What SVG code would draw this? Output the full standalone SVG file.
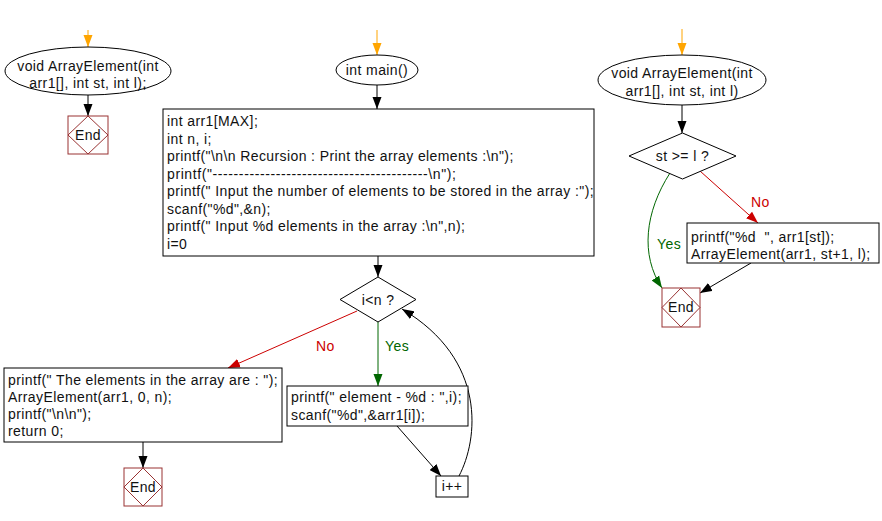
<svg xmlns="http://www.w3.org/2000/svg" width="882" height="521" viewBox="0 0 882 521">
<defs>
<style>
text{font-family:"Liberation Sans",Arial,sans-serif;font-size:14px;letter-spacing:0.4px;fill:#111;white-space:pre}
.sh{fill:#fff;stroke:#000;stroke-width:1}
.end rect{fill:#fff;stroke:#993333;stroke-width:1}
.end path{fill:none;stroke:#993333;stroke-width:1}
.c{fill:none;stroke:#000;stroke-width:1}
.o{stroke:#FFA500}
.r{stroke:#CC0000}
.g{stroke:#006600}
.lr{fill:#CC0000}
.lg{fill:#006600}
</style>
<marker id="ak" markerUnits="userSpaceOnUse" markerWidth="14" markerHeight="10" refX="12" refY="5" orient="auto"><path d="M0,0.5 L12,5 L0,9.5 Z" fill="#000"/></marker>
<marker id="ao" markerUnits="userSpaceOnUse" markerWidth="14" markerHeight="10" refX="12" refY="5" orient="auto"><path d="M0,0.5 L12,5 L0,9.5 Z" fill="#FFA500"/></marker>
<marker id="ar" markerUnits="userSpaceOnUse" markerWidth="14" markerHeight="10" refX="12" refY="5" orient="auto"><path d="M0,0.5 L12,5 L0,9.5 Z" fill="#CC0000"/></marker>
<marker id="ag" markerUnits="userSpaceOnUse" markerWidth="14" markerHeight="10" refX="12" refY="5" orient="auto"><path d="M0,0.5 L12,5 L0,9.5 Z" fill="#006600"/></marker>
</defs>
<rect width="882" height="521" fill="#fff"/>

<g id="connectors">
<line class="c o" x1="88" y1="30" x2="88" y2="47" marker-end="url(#ao)"/>
<line class="c" x1="88" y1="95" x2="88" y2="116" marker-end="url(#ak)"/>
<line class="c o" x1="377" y1="30" x2="377" y2="55" marker-end="url(#ao)"/>
<line class="c" x1="377" y1="85" x2="377" y2="109" marker-end="url(#ak)"/>
<line class="c" x1="378" y1="256" x2="378" y2="277" marker-end="url(#ak)"/>
<line class="c g" x1="378" y1="322" x2="378" y2="386" marker-end="url(#ag)"/>
<line class="c r" x1="357" y1="311" x2="228" y2="368" marker-end="url(#ar)"/>
<line class="c" x1="143" y1="442" x2="143" y2="468" marker-end="url(#ak)"/>
<line class="c" x1="397" y1="426" x2="441" y2="476" marker-end="url(#ak)"/>
<path class="c" d="M459,476 C478,440 488,360 402,309" marker-end="url(#ak)"/>
<line class="c o" x1="682" y1="29" x2="682" y2="55" marker-end="url(#ao)"/>
<line class="c" x1="682" y1="105" x2="682" y2="133" marker-end="url(#ak)"/>
<line class="c r" x1="700" y1="171" x2="758" y2="223" marker-end="url(#ar)"/>
<path class="c g" d="M670,173 C645,212 640,255 662,288" marker-end="url(#ag)"/>
<line class="c" x1="751" y1="263" x2="700" y2="293" marker-end="url(#ak)"/>
<text class="lr" x="316" y="351">No</text>
<text class="lg" x="385" y="351">Yes</text>
<text class="lr" x="751" y="207">No</text>
<text class="lg" x="657" y="249">Yes</text>
</g>

<g id="start-arrayelement-left">
<ellipse class="sh" cx="88" cy="71" rx="83" ry="24"/>
<text x="88" y="71" text-anchor="middle">void ArrayElement(int</text>
<text x="88" y="88" text-anchor="middle">arr1[], int st, int l);</text>
</g>
<g id="end-left" class="end">
<rect x="68" y="116" width="40" height="38"/>
<path d="M88,116 L108,135 L88,154 L68,135 Z"/>
<text x="88" y="140" text-anchor="middle">End</text>
</g>

<g id="start-main">
<ellipse class="sh" cx="377" cy="70" rx="41" ry="15"/>
<text x="377" y="75" text-anchor="middle">int main()</text>
</g>
<g id="init-block">
<rect class="sh" x="163" y="109" width="431" height="147"/>
<text x="167" y="126">int arr1[MAX];</text>
<text x="167" y="143.5">int n, i;</text>
<text x="167" y="161">printf("\n\n Recursion : Print the array elements :\n");</text>
<text x="167" y="178.5" style="letter-spacing:0.6px">printf("-----------------------------------------\n");</text>
<text x="167" y="196">printf(" Input the number of elements to be stored in the array :");</text>
<text x="167" y="213.5">scanf("%d",&amp;n);</text>
<text x="167" y="231">printf(" Input %d elements in the array :\n",n);</text>
<text x="167" y="248.5">i=0</text>
</g>
<g id="cond-i-lt-n">
<path class="sh" d="M378,277 L416,299.5 L378,322 L340,299.5 Z"/>
<text x="378" y="304.5" text-anchor="middle">i&lt;n ?</text>
</g>
<g id="print-block">
<rect class="sh" x="4" y="368" width="278" height="74"/>
<text x="8" y="385">printf(" The elements in the array are : ");</text>
<text x="8" y="402">ArrayElement(arr1, 0, n);</text>
<text x="8" y="419">printf("\n\n");</text>
<text x="8" y="436">return 0;</text>
</g>
<g id="end-main" class="end">
<rect x="124" y="468" width="38" height="38"/>
<path d="M143,468 L162,487 L143,506 L124,487 Z"/>
<text x="143" y="492" text-anchor="middle">End</text>
</g>
<g id="read-block">
<rect class="sh" x="287" y="386" width="181" height="40"/>
<text x="291" y="402">printf(" element - %d : ",i);</text>
<text x="291" y="420">scanf("%d",&amp;arr1[i]);</text>
</g>
<g id="incr">
<rect class="sh" x="436" y="476" width="32" height="21"/>
<text x="452" y="491" text-anchor="middle">i++</text>
</g>

<g id="start-arrayelement-right">
<ellipse class="sh" cx="682" cy="80" rx="84" ry="25"/>
<text x="682" y="78" text-anchor="middle">void ArrayElement(int</text>
<text x="682" y="96" text-anchor="middle">arr1[], int st, int l)</text>
</g>
<g id="cond-st-ge-l">
<path class="sh" d="M682.5,133 L736,156 L682.5,179 L629,156 Z"/>
<text x="682.5" y="161" text-anchor="middle">st &gt;= l ?</text>
</g>
<g id="recurse-block">
<rect class="sh" x="687" y="223" width="192" height="40"/>
<text x="691" y="242" xml:space="preserve">printf("%d  ", arr1[st]);</text>
<text x="691" y="259">ArrayElement(arr1, st+1, l);</text>
</g>
<g id="end-right" class="end">
<rect x="662" y="288" width="38" height="39"/>
<path d="M681,288 L700,307.5 L681,327 L662,307.5 Z"/>
<text x="681" y="312" text-anchor="middle">End</text>
</g>
</svg>
